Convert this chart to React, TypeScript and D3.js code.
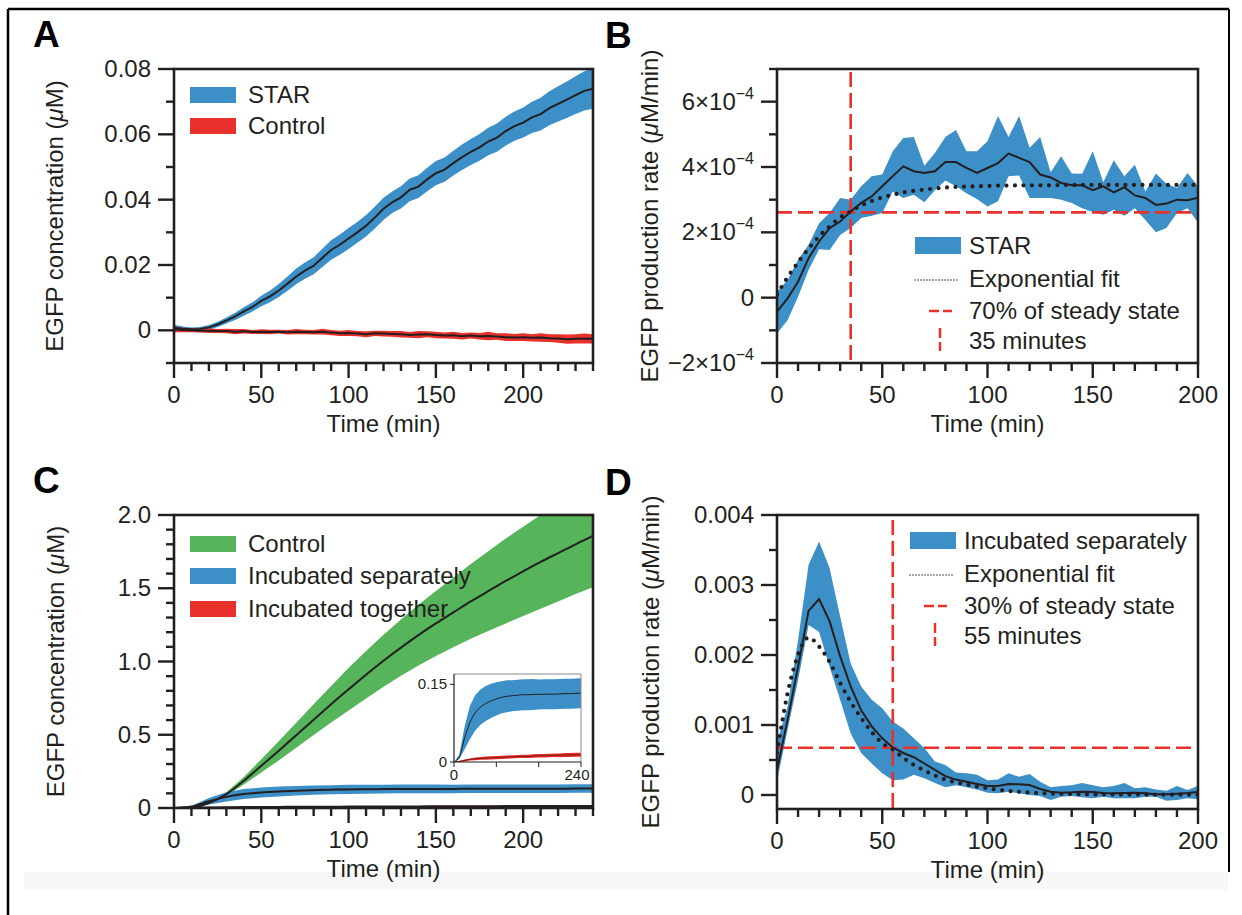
import React from 'react';
import * as d3 from 'd3';

// ---- panel A: EGFP concentration (uM), STAR vs control ----
const timeA = [0, 5, 10, 15, 20, 25, 30, 35, 40, 45, 50, 55, 60, 65, 70, 75, 80, 85, 90, 95, 100, 105, 110, 115, 120, 125, 130, 135, 140, 145, 150, 155, 160, 165, 170, 175, 180, 185, 190, 195, 200, 205, 210, 215, 220, 225, 230, 235, 240];
const starMean = [0.0008, 0.0005, 0.0003, 0.0004, 0.0009, 0.0018, 0.003, 0.0043, 0.0058, 0.0072, 0.009, 0.0104, 0.0122, 0.0143, 0.0165, 0.0183, 0.0198, 0.0222, 0.0246, 0.0262, 0.0281, 0.03, 0.032, 0.0345, 0.0372, 0.0392, 0.0407, 0.043, 0.044, 0.0462, 0.0481, 0.0492, 0.0512, 0.053, 0.0546, 0.056, 0.0578, 0.059, 0.061, 0.0625, 0.0636, 0.0652, 0.0662, 0.068, 0.0693, 0.0706, 0.072, 0.0733, 0.074];
const starSd = [0.0009, 0.0007, 0.0006, 0.0006, 0.0007, 0.0008, 0.0009, 0.0011, 0.0013, 0.0014, 0.0016, 0.0018, 0.002, 0.0022, 0.0024, 0.0025, 0.0026, 0.0028, 0.003, 0.0031, 0.0032, 0.0032, 0.0033, 0.0033, 0.0034, 0.0033, 0.0034, 0.0035, 0.0035, 0.0036, 0.0037, 0.0037, 0.0038, 0.0039, 0.004, 0.0041, 0.0042, 0.0043, 0.0044, 0.0045, 0.0046, 0.0048, 0.005, 0.0052, 0.0054, 0.0056, 0.0058, 0.006, 0.0062];
const ctrlMean = [0.0003, 0.0001, 0, -0.0001, -0.0001, -0.0002, -0.0002, -0.0004, -0.0003, -0.0005, -0.0004, -0.0005, -0.0004, -0.0006, -0.0004, -0.0005, -0.0006, -0.0004, -0.0007, -0.0009, -0.0008, -0.001, -0.0012, -0.0009, -0.001, -0.0011, -0.0012, -0.0014, -0.0013, -0.0012, -0.0014, -0.0016, -0.0015, -0.0018, -0.0016, -0.0018, -0.0017, -0.0019, -0.0021, -0.0022, -0.0021, -0.0023, -0.0022, -0.0024, -0.0025, -0.0027, -0.0026, -0.0025, -0.0026];
const ctrlSd = [0.0009, 0.0007, 0.0006, 0.0006, 0.0007, 0.0006, 0.0007, 0.0008, 0.0007, 0.0006, 0.0007, 0.0007, 0.0006, 0.0007, 0.0008, 0.0007, 0.0007, 0.0009, 0.0008, 0.0008, 0.0009, 0.0008, 0.0009, 0.0008, 0.0009, 0.0009, 0.001, 0.0009, 0.0011, 0.0009, 0.001, 0.0009, 0.0011, 0.001, 0.0009, 0.001, 0.0013, 0.001, 0.0012, 0.0011, 0.0012, 0.0011, 0.0013, 0.0012, 0.0013, 0.0014, 0.0014, 0.0015, 0.0014];

// ---- panel B: production rate, units of 1e-4 uM/min ----
const timeB = [0, 5, 10, 15, 20, 25, 30, 35, 40, 45, 50, 55, 60, 65, 70, 75, 80, 85, 90, 95, 100, 105, 110, 115, 120, 125, 130, 135, 140, 145, 150, 155, 160, 165, 170, 175, 180, 185, 190, 195, 200];
const rateMeanB = [-0.43, -0.02, 0.49, 1.21, 1.72, 2.13, 2.33, 2.64, 2.9, 3.1, 3.41, 3.72, 4.02, 3.87, 3.82, 3.87, 4.15, 4.15, 3.97, 3.82, 3.97, 4.12, 4.41, 4.28, 4.15, 3.77, 3.68, 3.51, 3.44, 3.44, 3.29, 3.41, 3.22, 3.38, 3.13, 3.05, 2.84, 2.88, 3.0, 2.98, 3.06];
const rateUpperB = [0.18, 0.54, 1.16, 1.62, 2.28, 2.59, 3.05, 3.0, 3.41, 3.72, 3.77, 4.48, 4.89, 4.92, 4.04, 4.43, 4.92, 5.13, 4.48, 4.48, 4.79, 5.56, 4.92, 5.56, 4.59, 4.92, 3.84, 4.33, 3.8, 3.79, 4.48, 3.53, 4.21, 3.72, 4.07, 3.25, 3.8, 3.49, 3.36, 3.82, 3.41];
const rateLowerB = [-1.1, -0.69, 0.03, 0.85, 1.48, 1.46, 1.92, 2.13, 2.44, 2.51, 2.59, 3.25, 3.05, 3.15, 2.92, 3.29, 3.59, 3.41, 3.2, 3.02, 2.79, 2.95, 3.72, 3.74, 3.05, 3.05, 3.05, 3.0, 2.9, 2.74, 2.62, 2.54, 2.69, 2.51, 2.74, 2.38, 2.0, 2.13, 2.59, 2.74, 2.3];
const rateFitB = [0.1, 0.62, 1.08, 1.5, 1.88, 2.18, 2.45, 2.64, 2.82, 2.96, 3.07, 3.15, 3.22, 3.27, 3.31, 3.34, 3.37, 3.39, 3.4, 3.41, 3.42, 3.43, 3.43, 3.44, 3.44, 3.44, 3.44, 3.45, 3.45, 3.45, 3.45, 3.45, 3.45, 3.45, 3.45, 3.45, 3.45, 3.45, 3.45, 3.45, 3.45];
const steadyB = 2.61;
const halfTimeB = 35;

// ---- panel C: EGFP concentration (uM), three conditions ----
const timeC = [0, 10, 20, 30, 40, 50, 60, 70, 80, 90, 100, 110, 120, 130, 140, 150, 160, 170, 180, 190, 200, 210, 220, 230, 240];
const ctrlCMean = [0, 0.003, 0.034, 0.095, 0.186, 0.288, 0.39, 0.497, 0.603, 0.708, 0.81, 0.91, 1.005, 1.095, 1.18, 1.26, 1.335, 1.41, 1.48, 1.55, 1.615, 1.68, 1.74, 1.8, 1.857];
const ctrlCSd = [0, 0.001, 0.005, 0.012, 0.025, 0.045, 0.065, 0.085, 0.105, 0.125, 0.145, 0.162, 0.178, 0.192, 0.207, 0.222, 0.238, 0.255, 0.272, 0.29, 0.305, 0.32, 0.33, 0.34, 0.35];
const sepMean = [0, 0.01, 0.046, 0.076, 0.095, 0.106, 0.113, 0.118, 0.122, 0.125, 0.127, 0.128, 0.129, 0.13, 0.13, 0.1305, 0.1305, 0.131, 0.131, 0.131, 0.1315, 0.132, 0.132, 0.1325, 0.133];
const sepSd = [0, 0.004, 0.022, 0.032, 0.034, 0.034, 0.034, 0.033, 0.032, 0.031, 0.031, 0.03, 0.03, 0.03, 0.03, 0.03, 0.029, 0.029, 0.029, 0.029, 0.029, 0.029, 0.029, 0.029, 0.029];
const togMean = [0, 0.001, 0.003, 0.005, 0.006, 0.007, 0.0075, 0.008, 0.0085, 0.009, 0.0095, 0.01, 0.0105, 0.011, 0.011, 0.0115, 0.012, 0.012, 0.0125, 0.013, 0.013, 0.0135, 0.0135, 0.014, 0.014];
const togSd = [0, 0.001, 0.002, 0.002, 0.0025, 0.0025, 0.003, 0.003, 0.003, 0.003, 0.003, 0.003, 0.003, 0.0032, 0.0032, 0.0033, 0.0033, 0.0034, 0.0035, 0.0035, 0.0036, 0.0037, 0.0038, 0.004, 0.004];

// ---- panel D: production rate, units of 1e-3 uM/min ----
const rateMeanD = [0.357, 1.07, 1.83, 2.63, 2.8, 2.48, 1.98, 1.55, 1.21, 0.98, 0.81, 0.68, 0.6, 0.54, 0.45, 0.36, 0.27, 0.22, 0.19, 0.157, 0.13, 0.13, 0.157, 0.152, 0.143, 0.086, 0.048, 0.033, 0.038, 0.048, 0.043, 0.029, 0.024, 0.029, 0.033, 0.024, 0.01, 0.01, 0.019, 0.029, 0.043];
const rateUpperD = [0.75, 1.26, 2.21, 3.29, 3.62, 3.24, 2.55, 1.88, 1.55, 1.36, 1.24, 1.05, 0.95, 0.81, 0.67, 0.48, 0.43, 0.32, 0.31, 0.29, 0.21, 0.22, 0.31, 0.26, 0.3, 0.19, 0.11, 0.13, 0.14, 0.17, 0.14, 0.11, 0.13, 0.17, 0.095, 0.11, 0.08, 0.062, 0.13, 0.07, 0.13];
const rateLowerD = [0.2, 0.93, 1.64, 2.43, 2.33, 1.83, 1.36, 0.88, 0.6, 0.45, 0.31, 0.21, 0.22, 0.29, 0.24, 0.17, 0.11, 0.14, 0.11, 0.08, 0.033, 0.024, 0.048, 0.024, 0, -0.014, -0.07, -0.024, -0.014, -0.033, -0.048, -0.024, -0.048, -0.048, -0.048, -0.024, -0.024, -0.081, -0.07, -0.048, -0.062];
const rateFitD = [0.6, 1.45, 2.0, 2.25, 2.12, 1.9, 1.6, 1.33, 1.1, 0.9, 0.74, 0.65, 0.53, 0.43, 0.35, 0.28, 0.22, 0.18, 0.15, 0.12, 0.095, 0.075, 0.058, 0.045, 0.035, 0.027, 0.021, 0.017, 0.013, 0.011, 0.009, 0.008, 0.007, 0.006, 0.006, 0.005, 0.005, 0.005, 0.004, 0.004, 0.004];
const steadyD = 0.676;
const halfTimeD = 55;

// ---- tick labels ----
const xMajor240 = [0, 50, 100, 150, 200];
const xMajor200 = [0, 50, 100, 150, 200];
const xLabels = ['0', '50', '100', '150', '200'];
const yMajorA = [0, 0.02, 0.04, 0.06, 0.08];
const yLabelsA = ['0', '0.02', '0.04', '0.06', '0.08'];
const yMajorB = [-2, 0, 2, 4, 6];
const yLabelsB = ['\u22122\u00d710', '0', '2\u00d710', '4\u00d710', '6\u00d710'];
const yExpB = ['\u22124', '', '\u22124', '\u22124', '\u22124'];
const yMajorC = [0, 0.5, 1, 1.5, 2];
const yLabelsC = ['0', '0.5', '1.0', '1.5', '2.0'];
const yMajorD = [0, 1, 2, 3, 4];
const yLabelsD = ['0', '0.001', '0.002', '0.003', '0.004'];
const insetXTicks = [0, 80, 160, 240];

const FONT = '"Liberation Sans", Arial, Helvetica, sans-serif';
const INK = '#231f20';
const BLUE = '#3d8fc7';
const RED = '#e8312a';
const GREEN = '#56b45b';
const FS = 24;
const LFS = 24;

const near = (arr, v) => arr.some((m) => Math.abs(m - v) < 1e-9);

const bandPath = (x, y, t, lo, hi) =>
  d3.area().x((_, i) => x(t[i])).y0((_, i) => y(lo[i])).y1((_, i) => y(hi[i]))(t);
const linePath = (x, y, t, v, curve = d3.curveLinear) =>
  d3.line().x((_, i) => x(t[i])).y((_, i) => y(v[i])).curve(curve)(t);

function Axes({ f, x, y, xCount, yCount, xMajor, yMajor, yLabels, yExp, yTitle, titleX }) {
  const xt = x.ticks(xCount);
  const yt = y.ticks(yCount);
  const midX = (f.left + f.right) / 2;
  const midY = (f.top + f.bottom) / 2;
  return (
    <g fill={INK} fontFamily={FONT}>
      {xt.map((v) => (
        <line key={'xt' + v} x1={x(v)} x2={x(v)} y1={f.bottom} y2={f.bottom + (near(xMajor, v) ? 15 : 8)} stroke={INK} strokeWidth={2.4} />
      ))}
      {yt.map((v) => (
        <line key={'yt' + v} x1={f.left} x2={f.left - (near(yMajor, v) ? 16 : 8)} y1={y(v)} y2={y(v)} stroke={INK} strokeWidth={2.4} />
      ))}
      <rect x={f.left} y={f.top} width={f.right - f.left} height={f.bottom - f.top} fill="none" stroke={INK} strokeWidth={2.6} />
      {xMajor.map((v, i) => (
        <text key={'xl' + v} x={x(v)} y={f.bottom + 40} fontSize={FS} textAnchor="middle">{xLabels[i]}</text>
      ))}
      {yMajor.map((v, i) => (
        <text key={'yl' + v} x={f.left - 23} y={y(v) + 8} fontSize={FS} textAnchor="end">
          {yExp && yExp[i] ? (
            <>
              {yLabels[i]}
              <tspan dy={-11} fontSize={16}>{yExp[i]}</tspan>
            </>
          ) : (
            yLabels[i]
          )}
        </text>
      ))}
      <text x={midX} y={f.bottom + 69} fontSize={FS} textAnchor="middle">Time (min)</text>
      <text transform={`translate(${titleX},${midY}) rotate(-90)`} fontSize={FS} textAnchor="middle" dy="0.35em">
        {yTitle[0]}
        <tspan fontStyle="italic">{'\u03bc'}</tspan>
        {yTitle[1]}
      </text>
    </g>
  );
}

function SwatchLegend({ x, items }) {
  return (
    <g fontFamily={FONT} fontSize={LFS} fill={INK}>
      {items.map((it) => (
        <g key={it.label}>
          <rect x={x} y={it.y - 16} width={46} height={16} fill={it.color} />
          <text x={x + 58} y={it.y}>{it.label}</text>
        </g>
      ))}
    </g>
  );
}

function RateLegend({ x, y0, label, pct, minutes }) {
  const tx = x + 54;
  return (
    <g fontFamily={FONT} fontSize={LFS} fill={INK}>
      <rect x={x} y={y0 - 17} width={46} height={17} fill={BLUE} />
      <text x={tx} y={y0}>{label}</text>
      <line x1={x} x2={x + 45} y1={y0 + 26} y2={y0 + 26} stroke={INK} strokeWidth={1.5} strokeDasharray="0 3" strokeLinecap="round" />
      <text x={tx} y={y0 + 33}>Exponential fit</text>
      <line x1={x + 14} x2={x + 37} y1={y0 + 57} y2={y0 + 57} stroke={RED} strokeWidth={2.5} strokeDasharray="10 4" />
      <text x={tx} y={y0 + 65}>{pct}</text>
      <line x1={x + 25} x2={x + 25} y1={y0 + 74} y2={y0 + 97} stroke={RED} strokeWidth={2.5} strokeDasharray="10 4" />
      <text x={tx} y={y0 + 95}>{minutes}</text>
    </g>
  );
}

export default function App() {
  const fA = { left: 174, right: 593, top: 69, bottom: 363 };
  const fB = { left: 777, right: 1198, top: 69, bottom: 363 };
  const fC = { left: 174, right: 593, top: 515, bottom: 808 };
  const fD = { left: 777, right: 1198, top: 515, bottom: 809 };

  const xA = d3.scaleLinear().domain([0, 240]).range([fA.left, fA.right]);
  const yA = d3.scaleLinear().domain([-0.01, 0.08]).range([fA.bottom, fA.top]);
  const xB = d3.scaleLinear().domain([0, 200]).range([fB.left, fB.right]);
  const yB = d3.scaleLinear().domain([-2, 7]).range([fB.bottom, fB.top]);
  const xC = d3.scaleLinear().domain([0, 240]).range([fC.left, fC.right]);
  const yC = d3.scaleLinear().domain([0, 2]).range([fC.bottom, fC.top]);
  const xD = d3.scaleLinear().domain([0, 200]).range([fD.left, fD.right]);
  const yD = d3.scaleLinear().domain([-0.2, 4]).range([fD.bottom, fD.top]);

  const inset = { left: 454, right: 581, top: 674, bottom: 762 };
  const xI = d3.scaleLinear().domain([0, 240]).range([inset.left, inset.right]);
  const yI = d3.scaleLinear().domain([0, 0.17]).range([inset.bottom, inset.top]);

  const lo = (m, s) => m.map((v, i) => v - s[i]);
  const hi = (m, s) => m.map((v, i) => v + s[i]);
  const clip = (id, f) => (
    <clipPath id={id}>
      <rect x={f.left} y={f.top} width={f.right - f.left} height={f.bottom - f.top} />
    </clipPath>
  );

  return (
    <svg width={1242} height={915} style={{ position: 'absolute', left: 0, top: 0, background: '#fff' }} fontFamily={FONT}>
      <defs>
        {clip('cA', fA)}
        {clip('cB', fB)}
        {clip('cC', fC)}
        {clip('cD', fD)}
        {clip('cI', inset)}
      </defs>

      {/* page frame */}
      <rect x={24} y={872} width={1204} height={18} fill="#f7f7f7" />
      <line x1={8} x2={1229} y1={9} y2={9} stroke="#000" strokeWidth={2.5} />
      <line x1={8} x2={8} y1={9} y2={915} stroke="#000" strokeWidth={2.5} />
      <line x1={1229} x2={1229} y1={9} y2={872} stroke="#000" strokeWidth={2} />

      {/* panel letters */}
      <g fontFamily={FONT} fontWeight="bold" fontSize={37} fill="#000">
        <text x={33} y={47}>A</text>
        <text x={605} y={48}>B</text>
        <text x={33} y={493}>C</text>
        <text x={605} y={495}>D</text>
      </g>

      {/* A */}
      <g clipPath="url(#cA)">
        <path d={bandPath(xA, yA, timeA, lo(starMean, starSd), hi(starMean, starSd))} fill={BLUE} />
        <path d={bandPath(xA, yA, timeA, lo(ctrlMean, ctrlSd), hi(ctrlMean, ctrlSd))} fill={RED} />
        <path d={linePath(xA, yA, timeA, starMean)} fill="none" stroke={INK} strokeWidth={2} />
        <path d={linePath(xA, yA, timeA, ctrlMean)} fill="none" stroke={INK} strokeWidth={2} />
      </g>
      <Axes f={fA} x={xA} y={yA} xCount={24} yCount={9} xMajor={xMajor240} yMajor={yMajorA} yLabels={yLabelsA} yTitle={['EGFP concentration (', 'M)']} titleX={55} />
      <SwatchLegend x={190} items={[{ label: 'STAR', color: BLUE, y: 103 }, { label: 'Control', color: RED, y: 134 }]} />

      {/* B */}
      <g clipPath="url(#cB)">
        <path d={bandPath(xB, yB, timeB, rateLowerB, rateUpperB)} fill={BLUE} />
        <line x1={fB.left} x2={fB.right} y1={yB(steadyB)} y2={yB(steadyB)} stroke={RED} strokeWidth={2.6} strokeDasharray="15 6" />
        <line x1={xB(halfTimeB)} x2={xB(halfTimeB)} y1={fB.top + 3} y2={fB.bottom} stroke={RED} strokeWidth={2.6} strokeDasharray="15 6" />
        <path d={linePath(xB, yB, timeB, rateFitB, d3.curveMonotoneX)} fill="none" stroke={INK} strokeWidth={4.2} strokeDasharray="0 8.5" strokeLinecap="round" />
        <path d={linePath(xB, yB, timeB, rateMeanB)} fill="none" stroke={INK} strokeWidth={2} />
      </g>
      <Axes f={fB} x={xB} y={yB} xCount={20} yCount={9} xMajor={xMajor200} yMajor={yMajorB} yLabels={yLabelsB} yExp={yExpB} yTitle={['EGFP production rate (', 'M/min)']} titleX={650} />
      <RateLegend x={915} y0={254} label="STAR" pct="70% of steady state" minutes="35 minutes" />

      {/* C */}
      <g clipPath="url(#cC)">
        <path d={bandPath(xC, yC, timeC, lo(ctrlCMean, ctrlCSd), hi(ctrlCMean, ctrlCSd))} fill={GREEN} />
        <path d={bandPath(xC, yC, timeC, lo(sepMean, sepSd), hi(sepMean, sepSd))} fill={BLUE} />
        <path d={bandPath(xC, yC, timeC, lo(togMean, togSd), hi(togMean, togSd))} fill={RED} />
        <path d={linePath(xC, yC, timeC, ctrlCMean, d3.curveMonotoneX)} fill="none" stroke={INK} strokeWidth={2} />
        <path d={linePath(xC, yC, timeC, sepMean, d3.curveMonotoneX)} fill="none" stroke={INK} strokeWidth={2} />
        <path d={linePath(xC, yC, timeC, togMean, d3.curveMonotoneX)} fill="none" stroke={INK} strokeWidth={2} />
      </g>
      <Axes f={fC} x={xC} y={yC} xCount={24} yCount={20} xMajor={xMajor240} yMajor={yMajorC} yLabels={yLabelsC} yTitle={['EGFP concentration (', 'M)']} titleX={56} />
      <SwatchLegend
        x={190}
        items={[
          { label: 'Control', color: GREEN, y: 552 },
          { label: 'Incubated separately', color: BLUE, y: 584 },
          { label: 'Incubated together', color: RED, y: 617 },
        ]}
      />

      {/* C inset */}
      <g clipPath="url(#cI)">
        <path d={bandPath(xI, yI, timeC, lo(sepMean, sepSd), hi(sepMean, sepSd))} fill={BLUE} />
        <path d={bandPath(xI, yI, timeC, lo(togMean, togSd), hi(togMean, togSd))} fill={RED} />
        <path d={linePath(xI, yI, timeC, sepMean, d3.curveMonotoneX)} fill="none" stroke={INK} strokeWidth={1} />
        <path d={linePath(xI, yI, timeC, togMean, d3.curveMonotoneX)} fill="none" stroke="#7a1a14" strokeWidth={1} />
      </g>
      <g fontFamily={FONT} fontSize={15} fill={INK}>
        <line x1={inset.left} x2={inset.right} y1={inset.top} y2={inset.top} stroke="#8a8a8a" strokeWidth={1} />
        <line x1={inset.right} x2={inset.right} y1={inset.top} y2={inset.bottom} stroke="#8a8a8a" strokeWidth={1} />
        <line x1={inset.left} x2={inset.left} y1={inset.top} y2={inset.bottom} stroke={INK} strokeWidth={1.2} />
        <line x1={inset.left} x2={inset.right} y1={inset.bottom} y2={inset.bottom} stroke={INK} strokeWidth={1.2} />
        {[0, 0.15].map((v) => (
          <line key={'iy' + v} x1={inset.left - 4} x2={inset.left} y1={yI(v)} y2={yI(v)} stroke={INK} strokeWidth={1} />
        ))}
        {insetXTicks.map((v) => (
          <line key={'ix' + v} x1={xI(v)} x2={xI(v)} y1={inset.bottom} y2={inset.bottom + 5} stroke={INK} strokeWidth={1} />
        ))}
        <text x={inset.left - 7} y={yI(0.15) + 5} textAnchor="end">0.15</text>
        <text x={inset.left - 7} y={yI(0) + 5} textAnchor="end">0</text>
        <text x={xI(0)} y={inset.bottom + 18} textAnchor="middle">0</text>
        <text x={xI(240) - 4} y={inset.bottom + 18} textAnchor="middle">240</text>
      </g>

      {/* D */}
      <g clipPath="url(#cD)">
        <path d={bandPath(xD, yD, timeB, rateLowerD, rateUpperD)} fill={BLUE} />
        <line x1={fD.left} x2={fD.right} y1={yD(steadyD)} y2={yD(steadyD)} stroke={RED} strokeWidth={2.6} strokeDasharray="15 6" />
        <line x1={xD(halfTimeD)} x2={xD(halfTimeD)} y1={fD.top + 5} y2={fD.bottom} stroke={RED} strokeWidth={2.6} strokeDasharray="15 6" />
        <path d={linePath(xD, yD, timeB, rateFitD, d3.curveMonotoneX)} fill="none" stroke={INK} strokeWidth={4.2} strokeDasharray="0 8.5" strokeLinecap="round" />
        <path d={linePath(xD, yD, timeB, rateMeanD)} fill="none" stroke={INK} strokeWidth={2} />
      </g>
      <Axes f={fD} x={xD} y={yD} xCount={20} yCount={8} xMajor={xMajor200} yMajor={yMajorD} yLabels={yLabelsD} yTitle={['EGFP production rate (', 'M/min)']} titleX={651} />
      <RateLegend x={910} y0={549} label="Incubated separately" pct="30% of steady state" minutes="55 minutes" />
    </svg>
  );
}
